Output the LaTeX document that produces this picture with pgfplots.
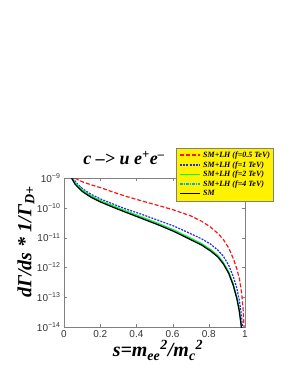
\documentclass[border=0pt]{standalone}
\usepackage{fontspec}
\setmainfont{Liberation Serif}
\newfontfamily\arial{Liberation Sans}
\usepackage{pgfplots}
\pgfplotsset{compat=1.18}
\definecolor{myblue}{RGB}{40,40,235}
\definecolor{myred}{RGB}{255,20,20}
\tikzset{
  cred/.style={color=myred, line width=1.2pt, dash pattern=on 4pt off 2pt},
  cblue/.style={color=myblue, line width=1.2pt, dash pattern=on 2pt off 1.2pt},
  cgreen/.style={color=green, line width=1.2pt},
  ccyan/.style={color=cyan, line width=1.2pt, dash pattern=on 3pt off 1pt on 1pt off 1pt},
  cblack/.style={color=black, line width=1.2pt},
}
\begin{document}
\begin{tikzpicture}[x=1pt,y=1pt]
\useasboundingbox (0,0) rectangle (295,382);
\begin{axis}[
  at={(64pt,55pt)}, anchor=south west,
  width=181pt, height=149pt, scale only axis,
  xmin=0, xmax=1, ymin=1e-14, ymax=1e-9, ymode=log,
  xtick={0,0.2,0.4,0.6,0.8,1},
  xticklabels={0,0.2,0.4,0.6,0.8,1},
  ytick={1e-14,1e-13,1e-12,1e-11,1e-10,1e-9},
  yticklabels={10\textsuperscript{−14},10\textsuperscript{−13},10\textsuperscript{−12},10\textsuperscript{−11},10\textsuperscript{−10},10\textsuperscript{−9}},
  yminorticks=false,
  tick label style={font=\arial\fontsize{10}{12}\selectfont, text=black!80},
  axis line style={gray}, tick style={gray}, tick align=inside,
  major tick length=3pt,
]
\addplot[cred] coordinates {
(0.061,1.00e-9) (0.08,8.51e-10) (0.107,7.24e-10) (0.15,5.89e-10) (0.2,4.79e-10)
(0.27,3.39e-10) (0.34,2.45e-10) (0.43,1.70e-10) (0.52,1.20e-10) (0.6,8.71e-11)
(0.7,5.37e-11) (0.76,3.55e-11) (0.81,2.24e-11) (0.85,1.38e-11) (0.88,8.71e-12)
(0.91,4.47e-12) (0.935,2.00e-12) (0.955,8.91e-13) (0.97,3.98e-13) (0.981,1.41e-13)
(0.989,4.47e-14) (0.995,1.00e-14) (0.997,3.16e-15)};
\addplot[cblue] coordinates {
(0.048,1e-9) (0.07,6.76e-10) (0.1,4.47e-10) (0.15,2.82e-10) (0.2,2.00e-10)
(0.27,1.35e-10) (0.337,9.33e-11) (0.43,6.03e-11) (0.52,3.80e-11) (0.61,2.40e-11)
(0.7,1.35e-11) (0.76,9.12e-12) (0.81,6.03e-12) (0.85,3.80e-12) (0.88,2.40e-12)
(0.91,1.17e-12) (0.935,5.01e-13) (0.955,2.00e-13) (0.97,7.08e-14) (0.98,2.51e-14)
(0.986,1e-14) (0.988,3.16e-15)};
\addplot[cgreen] coordinates {
(0.043,1.0e-9) (0.06,7.07e-10) (0.1,3.98e-10) (0.15,2.51e-10) (0.2,1.77e-10)
(0.27,1.18e-10) (0.337,8.11e-11) (0.43,4.89e-11) (0.52,3.01e-11) (0.61,1.77e-11)
(0.7,9.53e-12) (0.76,6.29e-12) (0.81,3.98e-12) (0.85,2.51e-12) (0.88,1.48e-12)
(0.91,7.07e-13) (0.935,2.81e-13) (0.955,9.98e-14) (0.968,3.98e-14) (0.978,1.41e-14)
(0.981,8.89e-15)};
\addplot[ccyan] coordinates {
(0.042,1.03e-9) (0.06,6.50e-10) (0.1,3.66e-10) (0.15,2.31e-10) (0.2,1.63e-10)
(0.27,1.08e-10) (0.337,7.46e-11) (0.43,4.50e-11) (0.52,2.77e-11) (0.61,1.63e-11)
(0.7,8.77e-12) (0.76,5.79e-12) (0.81,3.66e-12) (0.85,2.31e-12) (0.88,1.36e-12)
(0.91,6.50e-13) (0.935,2.59e-13) (0.955,9.18e-14) (0.968,3.66e-14) (0.978,1.30e-14)
(0.981,8.18e-15)};
\addplot[cblack] coordinates {
(0.042,1e-9) (0.06,6.31e-10) (0.1,3.55e-10) (0.15,2.24e-10) (0.2,1.58e-10)
(0.27,1.05e-10) (0.337,7.24e-11) (0.43,4.37e-11) (0.52,2.69e-11) (0.61,1.58e-11)
(0.7,8.51e-12) (0.76,5.62e-12) (0.81,3.55e-12) (0.85,2.24e-12) (0.88,1.32e-12)
(0.91,6.31e-13) (0.935,2.51e-13) (0.955,8.91e-14) (0.968,3.55e-14) (0.978,1.26e-14)
(0.981,7.94e-15)};
\end{axis}
% legend
\filldraw[fill=yellow, draw=gray, line width=0.6pt] (176,181) rectangle (273,234);
\foreach \yy/\st/\txt in {227/cred/{SM+LH (f=0.5 TeV)}, 217/cblue/{SM+LH (f=1 TeV)}, 207.7/cgreen/{SM+LH (f=2 TeV)}, 198/ccyan/{SM+LH (f=4 TeV)}, 188.7/cblack/{SM}}{
  \draw[\st] (180,\yy) -- (200,\yy);
  \node[anchor=base west, inner sep=0pt, font=\fontsize{8}{9}\selectfont\bfseries\itshape] at (203,\yy-2.7) {\txt};
}
\node[anchor=base] at (124,217) {\fontsize{18}{21}\selectfont\bfseries\itshape c –> u e\textsuperscript{+}e\textsuperscript{–}};
\node[anchor=base] at (158,25) {\fontsize{20}{24}\selectfont\bfseries\itshape s=m\textsubscript{ee}\textsuperscript{2}/m\textsubscript{c}\textsuperscript{2}};
\node[rotate=90] at (26,140) {\fontsize{20}{24}\selectfont\bfseries\itshape dΓ/ds * 1/Γ\textsubscript{D+}};
\end{tikzpicture}
\end{document}
